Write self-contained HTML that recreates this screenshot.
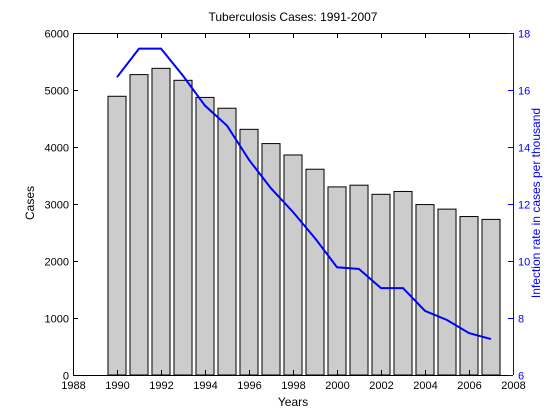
<!DOCTYPE html>
<html><head><meta charset="utf-8"><style>
body{margin:0;background:#fff;}
svg{display:block;font-family:"Liberation Sans",sans-serif;}
</style></head><body>
<svg id="chart" width="560" height="420"></svg>
<script>
const years=[1990,1991,1992,1993,1994,1995,1996,1997,1998,1999,2000,2001,2002,2003,2004,2005,2006,2007];
const cases=[4890,5270,5380,5170,4870,4680,4310,4060,3860,3610,3300,3330,3170,3220,2990,2910,2780,2730];
const rates=[16.45,17.45,17.45,16.5,15.45,14.75,13.55,12.55,11.72,10.8,9.78,9.72,9.05,9.05,8.25,7.93,7.47,7.26];
const xTicks=[1988,1990,1992,1994,1996,1998,2000,2002,2004,2006,2008];
const yTicks=[0,1000,2000,3000,4000,5000,6000];
const y2Ticks=[6,8,10,12,14,16,18];
const L=73,R=513,T=33,B=375;
const sx=v=>L+(v-1988)/20*(R-L);
const sy=v=>B-v/6000*(B-T);
const sy2=v=>B-(v-6)/12*(B-T);
const svg=document.getElementById('chart');
const NS='http://www.w3.org/2000/svg';
function mk(tag,attrs,parent){const e=document.createElementNS(NS,tag);for(const k in attrs)e.setAttribute(k,attrs[k]);(parent||svg).appendChild(e);return e;}
const bars=mk('g',{});


const bw=0.82*(sx(1)-sx(0));
years.forEach((y,i)=>{
 const r=mk('rect',{x:sx(y)-bw/2,y:sy(cases[i]),width:bw,height:B-sy(cases[i]),fill:'#cccccc',stroke:'#000','stroke-width':1},bars);
 
 
});
const line=mk('polyline',{points:years.map((y,i)=>sx(y)+','+sy2(rates[i])).join(' '),fill:'none',stroke:'#0000ff','stroke-width':2});


const ax=mk('g',{stroke:'#000','stroke-width':1,fill:'none'});


mk('line',{x1:L,y1:B+.5,x2:R,y2:B+.5},ax);
mk('line',{x1:L,y1:T+.5,x2:R,y2:T+.5},ax);
mk('line',{x1:L+.5,y1:T,x2:L+.5,y2:B},ax);
const ax2=mk('line',{x1:R+.5,y1:T,x2:R+.5,y2:B,stroke:'#0000ff'});


xTicks.forEach(t=>{const x=Math.round(sx(t))+.5;
 mk('line',{x1:x,y1:B,x2:x,y2:B-5},ax);mk('line',{x1:x,y1:T,x2:x,y2:T+5},ax);
 const tx=mk('text',{x:x,y:B+14,'text-anchor':'middle','font-size':11,fill:'#000'});tx.textContent=t;
 
 
});
yTicks.forEach(t=>{const y=Math.round(sy(t))+.5;
 mk('line',{x1:L,y1:y,x2:L+5,y2:y},ax);
 const tx=mk('text',{x:L-4,y:y+4,'text-anchor':'end','font-size':11,fill:'#000'});tx.textContent=t;
 
 
});
y2Ticks.forEach(t=>{const y=Math.round(sy2(t))+.5;
 mk('line',{x1:R,y1:y,x2:R-5,y2:y,stroke:'#0000ff'});
 const tx=mk('text',{x:R+5,y:y+4,'font-size':11,fill:'#0000ff'});tx.textContent=t;
 
 
});
</script>
<div style="position:absolute;left:0;top:0;width:560px;height:420px;pointer-events:none;font-family:'Liberation Sans',sans-serif;">
<div style="position:absolute;left:0;width:586px;top:10px;text-align:center;font-size:12px;">Tuberculosis Cases: 1991-2007</div>
<div style="position:absolute;left:0;width:586px;top:395px;text-align:center;font-size:12px;">Years</div>
<div style="position:absolute;top:196px;width:100px;text-align:center;font-size:12px;transform:rotate(-90deg);transform-origin:50% 50%;left:-20px;">Cases</div>
<div style="position:absolute;left:386px;top:196px;width:300px;text-align:center;font-size:12px;color:#0000ff;transform:rotate(-90deg);transform-origin:50% 50%;">Infection rate in cases per thousand</div>
</div>
</body></html>
